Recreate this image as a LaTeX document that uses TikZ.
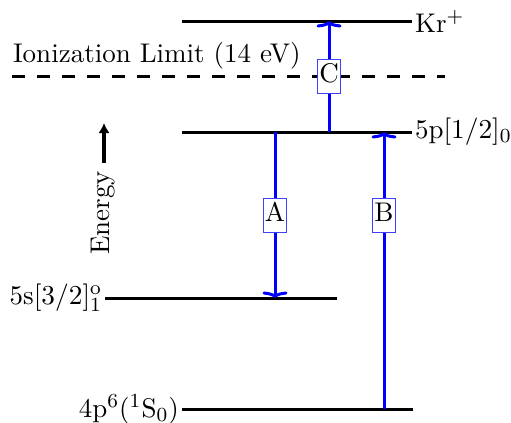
\documentclass[tikz,border=0pt]{standalone}
\usetikzlibrary{arrows.meta}
\begin{document}
\begin{tikzpicture}[x=0.4pt,y=-0.4pt,
  font=\fontsize{10.8}{13}\selectfont,
  level/.style={line width=1.2pt},
  trans/.style={blue,line width=1.2pt,-{To[length=2.6pt,width=10pt]}},
  tlabel/.style={draw=blue!75,fill=white,line width=0.4pt,inner xsep=0.6pt,inner ysep=1.8pt,text height=7.5pt,text depth=2.5pt,text=black},
  lbl/.style={inner sep=1pt}]
\useasboundingbox (0,0) rectangle (511,422);
% levels
\coordinate (krL) at (182,21); \coordinate (krR) at (412,21);
\coordinate (ionL) at (12,76); \coordinate (ionR) at (445,76);
\coordinate (pL) at (182,132); \coordinate (pR) at (412,132);
\coordinate (sL) at (105,298); \coordinate (sR) at (337,298);
\coordinate (gL) at (182,409); \coordinate (gR) at (413,409);
\draw[level] (krL) -- (krR);
\draw[level,dash pattern=on 5pt off 5pt] (ionL) -- (ionR);
\draw[level] (pL) -- (pR);
\draw[level] (sL) -- (sR);
\draw[level] (gL) -- (gR);
\node[lbl,anchor=west] (krlab) at (krR) {Kr$^+$};
\node[lbl,anchor=south west] (ionlab) at (10,72) {Ionization Limit (14 eV)};
\node[lbl,anchor=west] (plab) at (pR) {5p$[1/2]_0$};
\node[lbl,anchor=east] (slab) at (sL) {5s$[3/2]^{\mathrm{o}}_1$};
\node[lbl,anchor=east] (glab) at (gL) {4p$^6$($^1$S$_0$)};
% energy axis
\coordinate (e1) at (104,163); \coordinate (e2) at (104,123);
\draw[line width=1.5pt,-{Latex[length=4pt,width=4.5pt]}] (e1) -- (e2);
\node[rotate=90] (elab) at (103,213) {Energy};
% transitions
\coordinate (cB) at (329,132); \coordinate (cT) at (329,21);
\coordinate (aT) at (275,132); \coordinate (aB) at (275,298);
\coordinate (bB) at (384,409); \coordinate (bT) at (384,132);
\draw[trans] (cB) -- (cT);
\draw[trans] (aT) -- (aB);
\draw[trans] (bB) -- (bT);
\node[tlabel] (C) at (329,76) {C};
\node[tlabel] (A) at (275,215) {A};
\node[tlabel] (B) at (384,215) {B};
\end{tikzpicture}
\end{document}
